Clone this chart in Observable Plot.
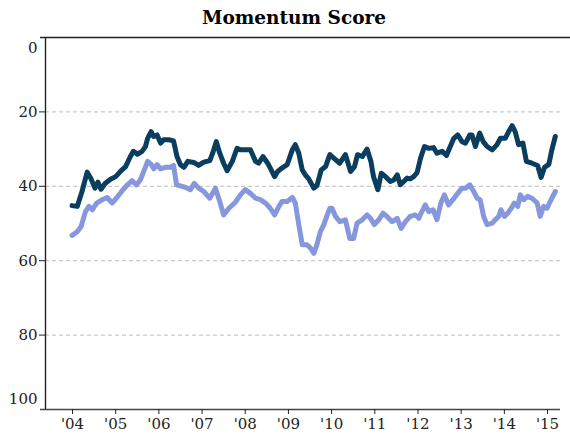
<!DOCTYPE html>
<html><head><meta charset="utf-8">
<script src="https://cdn.jsdelivr.net/npm/d3@7"></script>
<script src="https://cdn.jsdelivr.net/npm/@observablehq/plot@0.6"></script>
<style>
body{margin:0;background:#fff;}
#title{font-family:"DejaVu Serif";font-weight:bold;font-size:18.5px;height:30px;line-height:30px;padding-top:3px;padding-left:18px;width:552px;text-align:center;color:#000;}
</style></head><body>
<div id="title">Momentum Score</div>
<div id="chart"></div>
<script>
const chartTitle = "Momentum Score";
const yearTicks = [2004,2005,2006,2007,2008,2009,2010,2011,2012,2013,2014,2015];
const gridValues = [20,40,60,80];
const xDomain = [2003.375, 2015.3];

const darkTimes = [2003.99,2004.11,2004.22,2004.34,2004.43,2004.52,2004.59,2004.66,2004.76,2004.88,2005.00,2005.11,2005.23,2005.34,2005.41,2005.50,2005.61,2005.69,2005.74,2005.82,2005.88,2005.96,2006.04,2006.11,2006.23,2006.34,2006.42,2006.50,2006.58,2006.67,2006.81,2006.92,2007.04,2007.18,2007.26,2007.33,2007.41,2007.50,2007.58,2007.70,2007.81,2007.89,2008.00,2008.12,2008.24,2008.31,2008.41,2008.52,2008.58,2008.68,2008.75,2008.85,2008.97,2009.09,2009.16,2009.24,2009.32,2009.39,2009.47,2009.59,2009.66,2009.76,2009.86,2009.96,2010.05,2010.19,2010.32,2010.44,2010.53,2010.60,2010.71,2010.82,2010.91,2010.97,2011.07,2011.15,2011.25,2011.36,2011.44,2011.52,2011.59,2011.67,2011.75,2011.82,2011.90,2011.98,2012.06,2012.15,2012.25,2012.36,2012.44,2012.56,2012.66,2012.73,2012.83,2012.92,2013.02,2013.10,2013.20,2013.25,2013.33,2013.43,2013.51,2013.60,2013.72,2013.83,2013.91,2014.02,2014.10,2014.18,2014.25,2014.33,2014.43,2014.51,2014.64,2014.77,2014.85,2014.93,2015.03,2015.10,2015.18];
const darkValues = [45.2,45.4,41.4,36.2,38.0,40.5,38.9,40.8,39.2,38.1,37.4,36.0,34.7,32.0,30.6,31.4,30.6,29.3,27.1,25.3,26.6,26.2,28.4,27.5,27.5,27.8,32.0,34.2,34.9,33.3,33.6,34.4,33.5,33.1,30.6,28.0,31.1,33.8,35.8,33.3,29.8,30.2,30.2,30.2,33.3,33.8,32.0,33.8,35.1,37.4,36.0,35.1,34.2,30.2,28.8,31.1,35.6,36.9,38.0,40.5,39.8,35.6,34.7,31.5,32.4,33.8,31.5,36.0,34.7,31.5,32.0,30.0,33.3,37.4,40.9,36.5,37.4,38.7,38.3,36.9,39.6,38.7,37.8,38.0,37.4,36.3,32.4,29.3,29.8,29.6,31.1,30.6,31.7,29.8,27.1,26.2,28.0,28.4,26.2,26.2,29.3,25.7,28.0,29.3,30.2,28.8,27.1,27.1,25.3,23.7,25.3,28.8,28.4,33.3,33.8,34.4,37.6,34.9,34.1,30.2,26.6];

const lightTimes = [2003.99,2004.11,2004.20,2004.30,2004.38,2004.46,2004.56,2004.69,2004.80,2004.92,2005.03,2005.15,2005.27,2005.38,2005.48,2005.57,2005.65,2005.74,2005.82,2005.88,2005.96,2006.04,2006.15,2006.27,2006.34,2006.41,2006.50,2006.62,2006.73,2006.82,2006.92,2007.04,2007.18,2007.31,2007.41,2007.50,2007.62,2007.77,2007.89,2008.00,2008.12,2008.24,2008.35,2008.47,2008.58,2008.68,2008.78,2008.85,2008.97,2009.09,2009.16,2009.24,2009.32,2009.43,2009.51,2009.59,2009.66,2009.74,2009.82,2009.90,2009.96,2010.01,2010.09,2010.19,2010.32,2010.42,2010.51,2010.59,2010.71,2010.82,2010.90,2010.99,2011.09,2011.19,2011.28,2011.40,2011.52,2011.61,2011.71,2011.82,2011.94,2012.02,2012.09,2012.17,2012.25,2012.35,2012.44,2012.53,2012.61,2012.71,2012.81,2012.92,2013.02,2013.10,2013.20,2013.29,2013.37,2013.44,2013.52,2013.60,2013.72,2013.79,2013.87,2013.92,2014.00,2014.08,2014.16,2014.23,2014.31,2014.37,2014.45,2014.54,2014.64,2014.76,2014.83,2014.91,2014.99,2015.06,2015.18];
const lightValues = [53.2,52.2,50.8,46.8,45.4,46.3,44.5,43.6,43.0,44.5,43.0,41.2,39.6,38.5,39.6,38.3,36.0,33.3,34.1,35.3,34.2,35.3,34.9,34.9,34.4,39.6,39.9,40.3,40.9,39.2,40.5,41.4,43.2,40.5,44.1,47.7,45.9,44.3,42.3,40.9,41.9,43.2,43.6,44.5,45.9,47.7,45.4,44.1,44.1,43.0,44.5,50.3,55.7,55.7,56.6,58.0,55.7,52.2,50.3,47.7,45.9,45.9,48.1,49.5,49.0,54.0,54.0,49.9,49.0,47.7,48.6,50.3,49.0,47.2,48.1,49.5,48.6,51.3,49.5,48.1,47.7,48.6,46.8,45.0,46.8,46.3,49.0,44.5,42.3,45.0,43.6,41.9,40.5,40.5,39.6,41.4,43.2,43.6,48.1,50.3,49.9,49.0,48.1,46.3,48.1,47.2,45.9,44.5,45.4,42.3,43.6,42.7,43.2,44.5,48.1,45.4,45.9,44.1,41.4];

const dark = darkTimes.map((t, i) => ({t, v: darkValues[i]}));
const light = lightTimes.map((t, i) => ({t, v: lightValues[i]}));

document.getElementById("title").textContent = chartTitle;

const chart = Plot.plot({
  width: 570,
  height: 404,
  marginLeft: 45,
  marginRight: 10,
  marginTop: 4,
  marginBottom: 28,
  style: {fontFamily: "DejaVu Serif", fontSize: "15px", color: "#222", background: "#fff"},
  x: {domain: xDomain},
  y: {domain: [0, 100], reverse: true},
  marks: [
    Plot.gridY(gridValues, {stroke: "#bdbdbd", strokeOpacity: 1, strokeDasharray: "4,3"}),
    Plot.ruleY([0], {stroke: "#222", strokeWidth: 1.4, insetLeft: -5, insetRight: -10}),
    Plot.ruleY([100], {stroke: "#444", strokeWidth: 1.4, insetLeft: -5}),
    Plot.ruleX([xDomain[0]], {stroke: "#222", strokeWidth: 1.4}),
    Plot.axisY(gridValues, {tickSize: 6, tickPadding: 2, label: null}),
    Plot.axisY([0], {tickSize: 0, tickPadding: 8, dy: 11, label: null}),
    Plot.axisY([100], {tickSize: 0, tickPadding: 8, dy: -10, label: null}),
    Plot.axisX(yearTicks, {tickSize: 5, tickPadding: 4, label: null, tickFormat: d => "'" + String(d).slice(2)}),
    Plot.line(light, {x: "t", y: "v", stroke: "#8797dd", strokeWidth: 5, strokeLinejoin: "round", strokeLinecap: "round"}),
    Plot.line(dark, {x: "t", y: "v", stroke: "#0a3d5e", strokeWidth: 5, strokeLinejoin: "round", strokeLinecap: "round"})
  ]
});
document.getElementById("chart").appendChild(chart);
</script>
</body></html>
